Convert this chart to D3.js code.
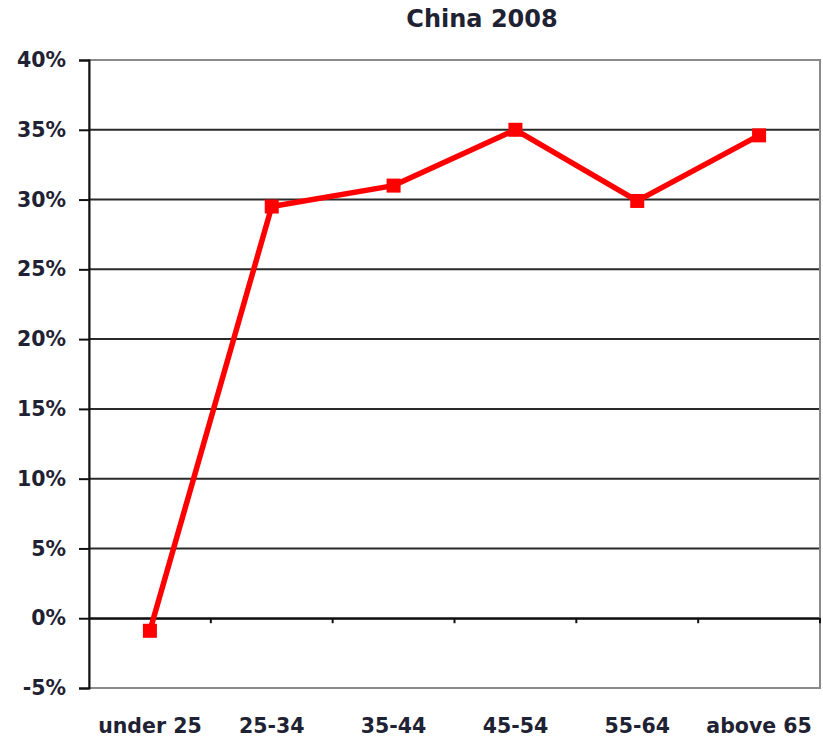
<!DOCTYPE html>
<html><head><meta charset="utf-8">
<script src="https://cdn.jsdelivr.net/npm/d3@7"></script>
<style>body{margin:0;background:#fff}svg{display:block}text{font-family:"DejaVu Sans",Verdana,sans-serif;fill:#1f2233}</style>
</head><body><svg id="c" width="823" height="738"></svg>
<script>
const categories = ["under 25","25-34","35-44","45-54","55-64","above 65"];
const values = [-0.9, 29.5, 31.0, 35.0, 29.9, 34.6];
const yTicks = [-5,0,5,10,15,20,25,30,35,40];
const title = "China 2008";

const svg = d3.select("#c");
const m = {l:89, r:3, t:60, b:50};
const W = 823, H = 738;
const x = d3.scaleBand().domain(categories).range([m.l, W - m.r]);
const y = d3.scaleLinear().domain([-5,40]).range([H - m.b, m.t]);

// gridlines
svg.append("g").selectAll("line").data(yTicks.filter(d=>d>-5 && d<40)).join("line")
  .attr("x1", m.l).attr("x2", W-m.r).attr("y1", d=>y(d)).attr("y2", d=>y(d))
  .attr("stroke","#2a2a2a").attr("stroke-width",2);
// plot border
svg.append("rect").attr("x",m.l).attr("y",y(40)).attr("width",W-m.r-m.l).attr("height",y(-5)-y(40))
  .attr("fill","none").attr("stroke","#8a8a8a").attr("stroke-width",2);

// y axis
const ya = svg.append("g").attr("transform",`translate(${m.l},0)`)
  .call(d3.axisLeft(y).tickValues(yTicks).tickFormat(d=>d+"%").tickSize(10).tickPadding(13));
ya.select(".domain").attr("stroke","#111").attr("stroke-width",2);
ya.selectAll(".tick line").attr("stroke","#111").attr("stroke-width",2);
ya.selectAll("text").style("font-size","20.5px").style("font-weight","bold").attr("fill","#1f2233");

// x axis at 0
const xa = svg.append("g").attr("transform",`translate(0,${y(0)})`)
  .call(d3.axisBottom(x).tickSize(0).tickFormat(""));
xa.select(".domain").attr("stroke","#111").attr("stroke-width",2);
xa.selectAll(".tick").remove();
svg.append("g").selectAll("line").data(categories.slice(1).concat(["end"])).join("line")
  .attr("x1",(d,i)=> i<categories.length-1 ? x(d) : W-m.r).attr("x2",(d,i)=> i<categories.length-1 ? x(d) : W-m.r)
  .attr("y1",y(0)).attr("y2",y(0)+5).attr("stroke","#111").attr("stroke-width",2);

// x labels
svg.append("g").selectAll("text").data(categories).join("text")
  .attr("x",d=>x(d)+x.bandwidth()/2).attr("y",H-5).attr("text-anchor","middle")
  .style("font-size","20.5px").style("font-weight","bold").text(d=>d);

// line
const line = d3.line().x((d,i)=>x(categories[i])+x.bandwidth()/2).y(d=>y(d));
svg.append("path").datum(values).attr("d",line).attr("fill","none")
  .attr("stroke","#ff0000").attr("stroke-width",5.5).attr("stroke-linejoin","round");
svg.append("g").selectAll("rect").data(values).join("rect")
  .attr("x",(d,i)=>x(categories[i])+x.bandwidth()/2-7).attr("y",d=>y(d)-7)
  .attr("width",14).attr("height",14).attr("fill","#ff0000");

svg.append("text").attr("x",482).attr("y",27).attr("text-anchor","middle")
  .style("font-size","24px").style("font-weight","bold").text(title);
</script></body></html>
